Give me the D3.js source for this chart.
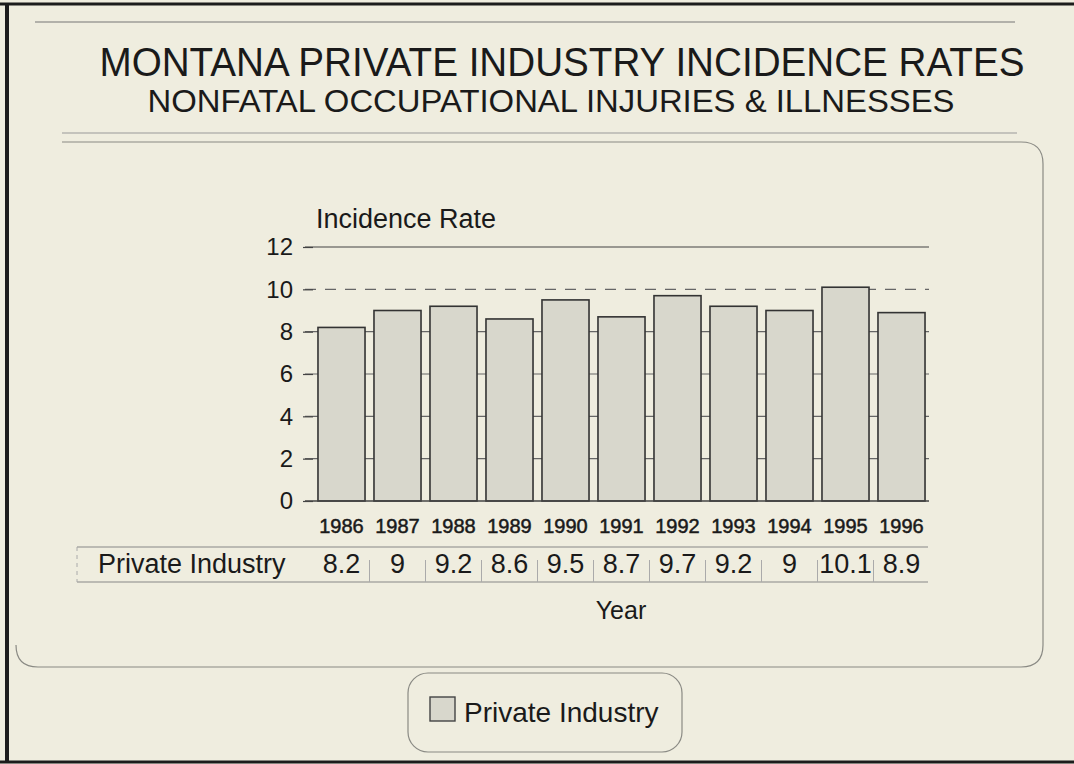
<!DOCTYPE html>
<html>
<head>
<meta charset="utf-8">
<script src="https://cdn.jsdelivr.net/npm/d3@7"></script>
<style>
  html, body { margin: 0; padding: 0; background: #efeddf; }
  svg { display: block; font-family: 'Liberation Sans', Arial, Helvetica, sans-serif; }
</style>
</head>
<body>
<div id="chart"></div>
<script>
const years = ['1986', '1987', '1988', '1989', '1990', '1991', '1992', '1993', '1994', '1995', '1996'];
const privateIndustry = [8.2, 9, 9.2, 8.6, 9.5, 8.7, 9.7, 9.2, 9, 10.1, 8.9];
const valueLabels = ['8.2', '9', '9.2', '8.6', '9.5', '8.7', '9.7', '9.2', '9', '10.1', '8.9'];
const yTicks = [0, 2, 4, 6, 8, 10, 12];
const seriesName = 'Private Industry';

document.addEventListener('DOMContentLoaded', () => {
  const width = 1074;
  const height = 764;
  const ink = '#1a1a1a';

  const svg = d3.select('#chart')
                .append('svg')
                .attr('width', width)
                .attr('height', height);

  svg.append('rect')
     .attr('width', width)
     .attr('height', height)
     .attr('fill', '#efeddf');

  // scanned page frame
  svg.append('line').attr('x1', 0).attr('x2', width).attr('y1', 4).attr('y2', 4)
     .attr('stroke', '#1c1c1c').attr('stroke-width', 3);
  svg.append('line').attr('x1', 7).attr('x2', 7).attr('y1', 3).attr('y2', 763)
     .attr('stroke', '#1c1c1c').attr('stroke-width', 4);
  svg.append('line').attr('x1', 0).attr('x2', width).attr('y1', 762).attr('y2', 762)
     .attr('stroke', '#1c1c1c').attr('stroke-width', 3);

  svg.append('line').attr('x1', 35).attr('x2', 1015).attr('y1', 22).attr('y2', 22)
     .attr('stroke', '#777').attr('stroke-width', 1.2);

  // titles (condensed face in the original, so squeeze to the measured width)
  svg.append('text')
     .attr('x', 562)
     .attr('y', 76)
     .attr('text-anchor', 'middle')
     .attr('font-family', "'Liberation Sans Narrow', 'Liberation Sans', Arial, sans-serif")
     .attr('font-size', 40)
     .attr('textLength', 925)
     .attr('lengthAdjust', 'spacingAndGlyphs')
     .attr('fill', ink)
     .text('MONTANA PRIVATE INDUSTRY INCIDENCE RATES');

  svg.append('text')
     .attr('x', 551)
     .attr('y', 112)
     .attr('text-anchor', 'middle')
     .attr('font-family', "'Liberation Sans Narrow', 'Liberation Sans', Arial, sans-serif")
     .attr('font-size', 32)
     .attr('textLength', 807)
     .attr('lengthAdjust', 'spacingAndGlyphs')
     .attr('fill', ink)
     .text('NONFATAL OCCUPATIONAL INJURIES & ILLNESSES');

  svg.append('line').attr('x1', 62).attr('x2', 1017).attr('y1', 133).attr('y2', 133)
     .attr('stroke', '#999').attr('stroke-width', 1.2);

  // rounded plot frame, left side faded in the scan
  const r = 22;
  svg.append('path')
     .attr('d', `M62,142 H${1043 - r} Q1043,142 1043,${142 + r} V${667 - r} Q1043,667 ${1043 - r},667 H${16 + r} Q16,667 16,${667 - r}`)
     .attr('fill', 'none')
     .attr('stroke', '#8a8a84')
     .attr('stroke-width', 1.2);

  const xScale = d3.scaleBand()
                   .domain(years)
                   .range([313.5, 929.5])
                   .paddingInner(0.16)
                   .paddingOuter(0.08);

  const yScale = d3.scaleLinear()
                   .domain([0, 12])
                   .range([501, 247]);

  // gridlines behind the bars
  svg.append('g')
     .selectAll('line')
     .data(yTicks.filter(d => d > 0))
     .enter()
     .append('line')
     .attr('x1', 305)
     .attr('x2', 929)
     .attr('y1', d => yScale(d))
     .attr('y2', d => yScale(d))
     .attr('stroke', d => d === 12 ? '#444' : '#666')
     .attr('stroke-width', 1.2)
     .attr('stroke-dasharray', d => d === 10 ? '11,9' : null);

  const yAxis = d3.axisLeft(yScale)
                  .tickValues(yTicks)
                  .tickSize(10)
                  .tickPadding(10);

  const yG = svg.append('g')
                .attr('transform', 'translate(313, 0)')
                .call(yAxis);
  yG.select('.domain').remove();
  yG.selectAll('line').attr('stroke', '#444').attr('stroke-width', 1.2);
  yG.selectAll('text')
    .attr('font-size', 24)
    .attr('font-family', "'Liberation Sans', Arial, sans-serif")
    .attr('fill', ink);

  svg.append('text')
     .attr('x', 316)
     .attr('y', 228)
     .attr('font-size', 27)
     .attr('fill', ink)
     .text('Incidence Rate');

  // bars
  svg.append('g')
     .selectAll('rect')
     .data(privateIndustry)
     .enter()
     .append('rect')
     .attr('x', (d, i) => xScale(years[i]))
     .attr('y', d => yScale(d))
     .attr('width', xScale.bandwidth())
     .attr('height', d => yScale(0) - yScale(d))
     .attr('fill', '#d8d7cc')
     .attr('stroke', '#333')
     .attr('stroke-width', 1.6);

  svg.append('line')
     .attr('x1', 305)
     .attr('x2', 929)
     .attr('y1', yScale(0))
     .attr('y2', yScale(0))
     .attr('stroke', '#444')
     .attr('stroke-width', 1.4);

  // year labels
  svg.append('g')
     .selectAll('text')
     .data(years)
     .enter()
     .append('text')
     .attr('x', d => xScale(d) + xScale.bandwidth() / 2)
     .attr('y', 533)
     .attr('text-anchor', 'middle')
     .attr('font-size', 20)
     .attr('fill', ink)
     .attr('stroke', ink)
     .attr('stroke-width', 0.5)
     .text(d => d);

  // data table under the axis
  const table = svg.append('g');
  table.append('line').attr('x1', 77).attr('x2', 928).attr('y1', 547).attr('y2', 547)
       .attr('stroke', '#888').attr('stroke-width', 1.2);
  table.append('line').attr('x1', 77).attr('x2', 928).attr('y1', 582).attr('y2', 582)
       .attr('stroke', '#888').attr('stroke-width', 1.2);
  table.append('line').attr('x1', 77).attr('x2', 77).attr('y1', 547).attr('y2', 582)
       .attr('stroke', '#aaa').attr('stroke-width', 1).attr('stroke-dasharray', '4,4');

  table.selectAll('.sep')
       .data(years.slice(1))
       .enter()
       .append('line')
       .attr('class', 'sep')
       .attr('x1', d => xScale(d) - xScale.step() * 0.08)
       .attr('x2', d => xScale(d) - xScale.step() * 0.08)
       .attr('y1', 560)
       .attr('y2', 582)
       .attr('stroke', '#aaa')
       .attr('stroke-width', 1);

  table.append('text')
       .attr('x', 98)
       .attr('y', 573)
       .attr('font-size', 27)
       .attr('fill', ink)
       .text(seriesName);

  table.selectAll('.val')
       .data(valueLabels)
       .enter()
       .append('text')
       .attr('class', 'val')
       .attr('x', (d, i) => xScale(years[i]) + xScale.bandwidth() / 2)
       .attr('y', 573)
       .attr('text-anchor', 'middle')
       .attr('font-size', 27)
       .attr('fill', ink)
       .text(d => d);

  svg.append('text')
     .attr('x', 621)
     .attr('y', 619)
     .attr('text-anchor', 'middle')
     .attr('font-size', 25)
     .attr('fill', ink)
     .text('Year');

  // legend
  const legend = svg.append('g');
  legend.append('rect')
        .attr('x', 408)
        .attr('y', 673)
        .attr('width', 274)
        .attr('height', 79)
        .attr('rx', 20)
        .attr('fill', 'none')
        .attr('stroke', '#8a8a84')
        .attr('stroke-width', 1.2);
  legend.append('rect')
        .attr('x', 430)
        .attr('y', 697)
        .attr('width', 25)
        .attr('height', 24)
        .attr('fill', '#d8d7cc')
        .attr('stroke', '#444')
        .attr('stroke-width', 1.4);
  legend.append('text')
        .attr('x', 464)
        .attr('y', 722)
        .attr('font-size', 28)
        .attr('fill', ink)
        .text(seriesName);
});
</script>
</body>
</html>
